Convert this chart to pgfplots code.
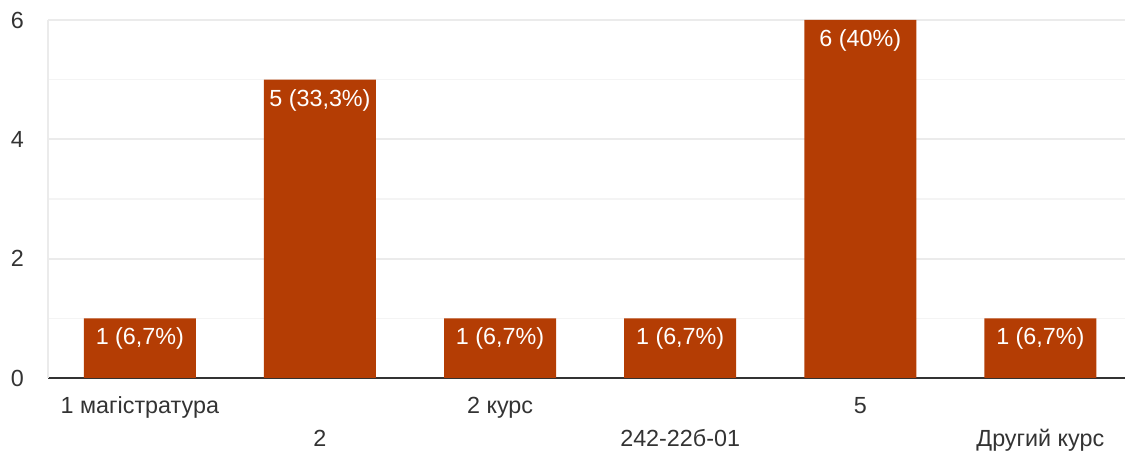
\documentclass[border=0pt]{standalone}
\usepackage{pgfplots}
\pgfplotsset{compat=1.18}
\usepackage{fontspec}
\setmainfont{Liberation Sans}
\definecolor{barc}{HTML}{B43D04}
\definecolor{gmaj}{HTML}{EBEBEB}
\definecolor{gmin}{HTML}{F4F4F4}
\definecolor{txt}{HTML}{333333}
\begin{document}
\begin{tikzpicture}
\useasboundingbox (-36pt,-55.5pt) rectangle (843.75pt-36pt,283.5pt);
\begin{axis}[
  at={(0,0)}, anchor=south west,
  scale only axis, width=807.75pt, height=268.5pt,
  xmin=-0.51, xmax=5.47, ymin=0, ymax=6,
  separate axis lines,
  axis x line*=bottom, axis y line*=left,
  x axis line style={draw=txt, line width=1.9pt, -},
  y axis line style={draw=gmaj, line width=1.5pt, -},
  ytick={0,2,4,6}, minor ytick={1,3,5},
  ymajorgrids, yminorgrids,
  major grid style={draw=gmaj, line width=1.5pt},
  minor grid style={draw=gmin, line width=1.2pt},
  major tick length=0pt, minor tick length=0pt,
  tick style={draw=none},
  font=\fontsize{17.5pt}{20pt}\selectfont,
  yticklabel style={anchor=east, inner sep=0pt, xshift=-18pt, text=txt},
  /pgf/number format/assume math mode=true,
  xtick={0,2,4},
  xticklabels={1 магістратура, 2 курс, 5},
  xticklabel style={anchor=base, inner sep=0pt, yshift=-27pt, text=txt},
  extra x ticks={1,3,5},
  extra x tick labels={2, 242-22б-01, Другий курс},
  extra x tick style={grid=none, xticklabel style={yshift=-24.75pt}},
  ybar, bar width=84pt, bar shift=0pt,
  point meta=explicit symbolic,
  nodes near coords,
  every node near coord/.append style={anchor=base, yshift=-20pt, text=white, inner sep=0pt,
     font=\fontsize{17.5pt}{20pt}\selectfont},
  clip=false,
]
\addplot[fill=barc, draw=none] coordinates {
  (0,1) [1 (6,7\%)]
  (1,5) [5 (33,3\%)]
  (2,1) [1 (6,7\%)]
  (3,1) [1 (6,7\%)]
  (4,6) [6 (40\%)]
  (5,1) [1 (6,7\%)]
};
\end{axis}
\end{tikzpicture}
\end{document}
